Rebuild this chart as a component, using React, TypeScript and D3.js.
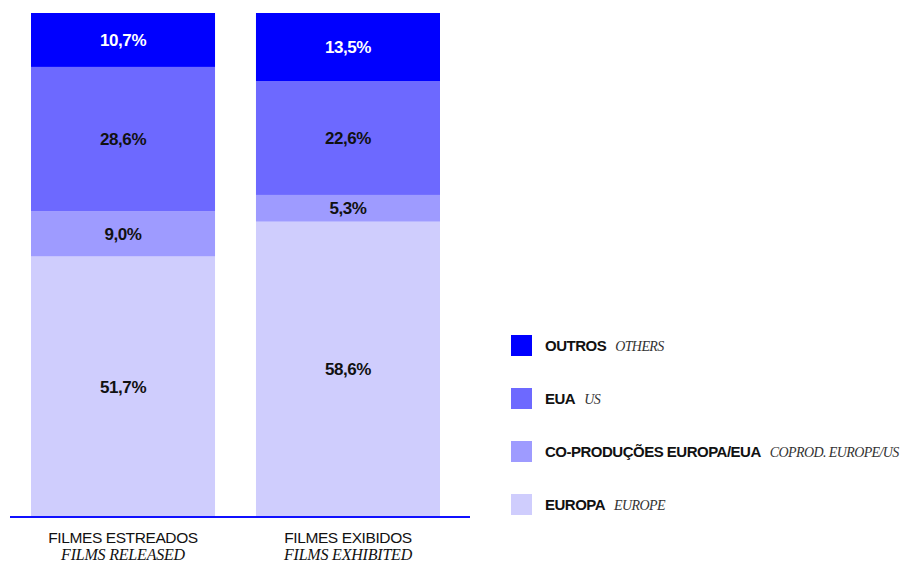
import * as d3 from "d3";
import { useEffect, useRef } from "react";

// categories (bars)
const barLabelsPt = ["FILMES ESTREADOS", "FILMES EXIBIDOS"];
const barLabelsEn = ["FILMS RELEASED", "FILMS EXHIBITED"];

// series, bottom to top
const seriesKeys = ["europa", "coprod", "eua", "outros"];
const seriesNamesPt = ["EUROPA", "CO-PRODUÇÕES EUROPA/EUA", "EUA", "OUTROS"];
const seriesNamesEn = ["EUROPE", "COPROD. EUROPE/US", "US", "OTHERS"];
const seriesColors = ["#cfcdfd", "#9e9bff", "#6d69ff", "#0000ff"];
const seriesTextColors = ["#111", "#111", "#111", "#fff"];

// values in %, per bar
const europaValues = [51.7, 58.6];
const coprodValues = [9.0, 5.3];
const euaValues = [28.6, 22.6];
const outrosValues = [10.7, 13.5];

const width = 904;
const height = 564;

export default function App() {
  const svgRef = useRef<SVGSVGElement>(null);

  useEffect(() => {
    if (!svgRef.current) return;
    const svg = d3.select(svgRef.current);
    svg.selectAll("*").remove();

    const rows = barLabelsPt.map((name, i) => ({
      name,
      europa: europaValues[i],
      coprod: coprodValues[i],
      eua: euaValues[i],
      outros: outrosValues[i],
    }));

    const x = d3
      .scaleBand<string>()
      .domain(barLabelsPt)
      .range([31, 440])
      .paddingInner(0.182)
      .paddingOuter(0);

    const y = d3.scaleLinear().domain([0, 100]).range([517, 13]);

    const stack = d3.stack<any>().keys(seriesKeys);
    const layers = stack(rows);

    const sansBold = "'Liberation Sans', Arial, sans-serif";
    const serif = "'Liberation Serif', 'Times New Roman', serif";

    layers.forEach((layer, li) => {
      const g = svg.append("g");
      g.selectAll("rect")
        .data(layer)
        .enter()
        .append("rect")
        .attr("x", (d) => x(d.data.name)!)
        .attr("width", x.bandwidth())
        .attr("y", (d) => y(d[1]))
        .attr("height", (d) => y(d[0]) - y(d[1]))
        .attr("fill", seriesColors[li]);

      g.selectAll("text")
        .data(layer)
        .enter()
        .append("text")
        .attr("x", (d) => x(d.data.name)! + x.bandwidth() / 2)
        .attr("y", (d) => (y(d[0]) + y(d[1])) / 2)
        .attr("dy", "0.35em")
        .attr("text-anchor", "middle")
        .style("font-family", sansBold)
        .style("font-weight", "bold")
        .style("font-size", "17px")
        .style("letter-spacing", "-0.4px")
        .style("fill", seriesTextColors[li])
        .text((d) => `${(d[1] - d[0]).toFixed(1).replace(".", ",")}%`);
    });

    // baseline
    svg
      .append("line")
      .attr("x1", 10)
      .attr("x2", 470)
      .attr("y1", y(0))
      .attr("y2", y(0))
      .style("stroke", "#1010ff")
      .style("stroke-width", 2);

    // category labels
    barLabelsPt.forEach((name, i) => {
      const cx = x(name)! + x.bandwidth() / 2;
      svg
        .append("text")
        .attr("x", cx)
        .attr("y", 543)
        .attr("text-anchor", "middle")
        .style("font-family", sansBold)
        .style("font-size", "15.5px")
        .style("letter-spacing", "-0.4px")
        .style("fill", "#111")
        .text(name);
      svg
        .append("text")
        .attr("x", cx)
        .attr("y", 560)
        .attr("text-anchor", "middle")
        .style("font-family", serif)
        .style("font-style", "italic")
        .style("font-size", "16px")
        .style("letter-spacing", "-0.2px")
        .style("fill", "#111")
        .text(barLabelsEn[i]);
    });

    // legend, top to bottom
    const legend = svg.append("g").attr("transform", "translate(511,335)");
    const order = [3, 2, 1, 0];
    order.forEach((si, i) => {
      const item = legend.append("g").attr("transform", `translate(0,${i * 53})`);
      item
        .append("rect")
        .attr("width", 21)
        .attr("height", 21)
        .attr("fill", seriesColors[si]);
      const t = item
        .append("text")
        .attr("x", 34)
        .attr("y", 10.5)
        .attr("dy", "0.36em")
        .style("fill", "#111");
      t.append("tspan")
        .style("font-family", sansBold)
        .style("font-weight", "bold")
        .style("font-size", "15px")
        .style("letter-spacing", "-0.5px")
        .text(seriesNamesPt[si]);
      t.append("tspan")
        .attr("dx", 9)
        .style("font-family", serif)
        .style("font-style", "italic")
        .style("font-size", "14px")
        .style("letter-spacing", "-0.6px")
        .style("fill", "#333")
        .text(seriesNamesEn[si]);
    });
  }, []);

  return (
    <svg
      ref={svgRef}
      width={width}
      height={height}
      style={{ position: "absolute", left: 0, top: 0, background: "#fff" }}
    />
  );
}
